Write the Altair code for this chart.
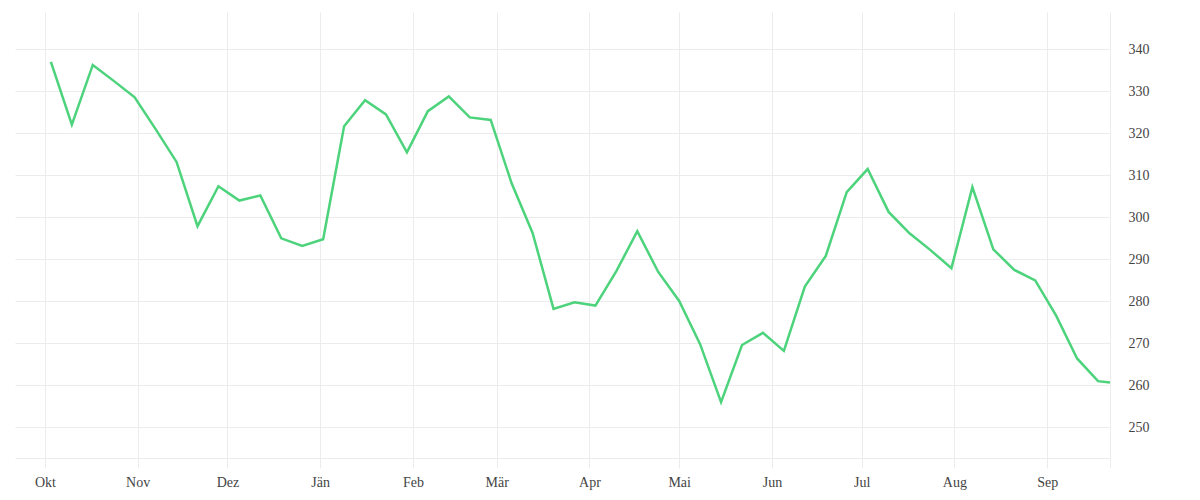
import altair as alt
import pandas as pd

# weekly observations (Mondays) plus a final partial-week value
week_dates = [d.strftime("%Y-%m-%d") for d in pd.date_range("2022-10-03", periods=51, freq="7D")]
dates = week_dates + ["2023-09-22"]

values = [
    337.0, 322.1, 336.3, 332.5, 328.6, 321.0, 313.2, 297.9, 307.4, 304.0,
    305.2, 295.0, 293.2, 294.8, 321.7, 327.9, 324.5, 315.5, 325.3, 328.8,
    323.8, 323.2, 308.1, 296.3, 278.2, 279.8, 279.0, 287.2, 296.7, 287.0,
    280.1, 269.8, 256.0, 269.6, 272.5, 268.2, 283.5, 290.8, 306.0, 311.5,
    301.3, 296.2, 292.2, 287.9, 307.2, 292.4, 287.5, 285.0, 276.6, 266.4,
    261.0, 260.7,
]

month_names = ["Jän", "Feb", "Mär", "Apr", "Mai", "Jun", "Jul", "Aug", "Sep", "Okt", "Nov", "Dez"]
y_ticks = [250, 260, 270, 280, 290, 300, 310, 320, 330, 340]

df = pd.DataFrame({"date": dates, "value": values})

# month starts shown on the axis, plus the domain end
tick_dates = [alt.DateTime(year=2022, month=m, date=1, utc=True) for m in (10, 11, 12)]
tick_dates += [alt.DateTime(year=2023, month=m, date=1, utc=True) for m in range(1, 10)]
tick_dates += [alt.DateTime(year=2023, month=9, date=22, utc=True)]

label_expr = (
    "utcdate(datum.value) == 1 ? "
    + "[" + ",".join("'" + m + "'" for m in month_names) + "][utcmonth(datum.value)] : ''"
)

grid_color = "#ececec"
text_color = "#444444"
font = "Liberation Serif"

chart = alt.Chart(df).mark_line(
    color="#4cd37b", strokeWidth=2.5, strokeJoin="miter"
).encode(
    x=alt.X(
        "date:T",
        scale=alt.Scale(
            type="utc",
            domain=[
                alt.DateTime(year=2022, month=9, date=21, utc=True),
                alt.DateTime(year=2023, month=9, date=22, utc=True),
            ],
        ),
        axis=alt.Axis(
            title=None,
            values=tick_dates,
            labelExpr=label_expr,
            grid=True,
            gridColor=grid_color,
            domain=True,
            domainColor=grid_color,
            ticks=True,
            tickColor=grid_color,
            tickSize=10,
            labelPadding=7,
            labelFont=font,
            labelFontSize=14,
            labelColor=text_color,
            labelAlign="center",
        ),
    ),
    y=alt.Y(
        "value:Q",
        scale=alt.Scale(domain=[242.7, 348.9], nice=False, zero=False),
        axis=alt.Axis(
            title=None,
            orient="right",
            values=y_ticks,
            grid=True,
            gridColor=grid_color,
            domain=False,
            ticks=False,
            labelPadding=18,
            labelFont=font,
            labelFontSize=14,
            labelColor=text_color,
        ),
    ),
).properties(
    width=1095,
    height=446,
    padding={"left": 7, "top": 4, "right": 5, "bottom": 5},
).configure(
    background="white"
).configure_view(
    stroke=None
)

chart.save("out.html", embed_options={"renderer": "svg", "actions": False})
